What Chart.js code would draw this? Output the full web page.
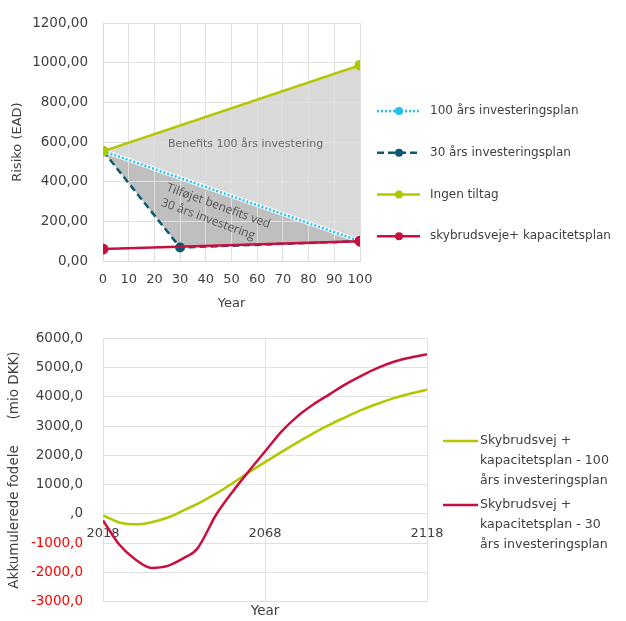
<!DOCTYPE html>
<html>
<head>
<meta charset="utf-8">
<script src="https://cdn.jsdelivr.net/npm/chart.js@4.4.0/dist/chart.umd.min.js"></script>
<style>
  html, body { margin: 0; padding: 0; background: #fff; overflow: hidden; }
  canvas { position: absolute; left: 0; }
  #riskChart { top: 0; }
  #benefitChart { top: 310px; }
</style>
</head>
<body>
<canvas id="riskChart" width="626" height="312"></canvas>
<canvas id="benefitChart" width="626" height="320"></canvas>
<script>
// top chart: risk per plan
const riskYears = [0, 100];
const plan30Years = [0, 30, 100];
const plan100 = [555, 100];
const plan30 = [555, 68, 100];
const ingenTiltag = [553, 988];
const skybrudsveje = [60, 100];

// bottom chart: accumulated benefits (mio DKK)
const benefitYears = [2018, 2023, 2028, 2033, 2038, 2043, 2047, 2053, 2058, 2063, 2068, 2073, 2078, 2083, 2088, 2092, 2098, 2103, 2108, 2113, 2118];
const benefit100 = [-50, -290, -355, -280, -120, 130, 335, 700, 1050, 1420, 1770, 2110, 2440, 2760, 3050, 3260, 3560, 3770, 3960, 4110, 4240];
const benefit30 = [-220, -1040, -1550, -1840, -1770, -1500, -1200, -10, 760, 1460, 2130, 2800, 3330, 3740, 4090, 4370, 4730, 4990, 5200, 5340, 5450];
const benefitTickYears = [2018, 2068, 2118];
const benefitLegend = [
  ['Skybrudsvej +', 'kapacitetsplan - 100', 'års investeringsplan'],
  ['Skybrudsvej +', 'kapacitetsplan - 30', 'års investeringsplan']
];

const GREEN = '#b1c800';
const RED = '#c8103f';
const TEAL = '#0c5a72';
const CYAN = '#22c0f0';
const TEXT = '#404040';
const GRID = '#e0e0e0';
const FONT = '"DejaVu Sans"';

function toPoints(xs, ys) {
  return xs.map((x, i) => ({ x: x, y: ys[i] }));
}

// legend drawn to the right of the plot, one row per labelled dataset
const riskLegend = {
  id: 'riskLegend',
  afterDraw(chart) {
    const ctx = chart.ctx;
    const x0 = chart.chartArea.right + 17;
    let y = chart.chartArea.top + 88;
    ctx.save();
    chart.data.datasets.forEach((ds) => {
      if (!ds.label) return;
      ctx.strokeStyle = ds.borderColor;
      ctx.lineWidth = ds.borderWidth;
      ctx.setLineDash(ds.borderDash || []);
      ctx.beginPath();
      ctx.moveTo(x0, y);
      ctx.lineTo(x0 + 43, y);
      ctx.stroke();
      ctx.setLineDash([]);
      ctx.fillStyle = ds.borderColor;
      ctx.beginPath();
      ctx.arc(x0 + 22, y, 4, 0, Math.PI * 2);
      ctx.fill();
      ctx.fillStyle = TEXT;
      ctx.font = '12px ' + FONT;
      ctx.textBaseline = 'middle';
      ctx.fillText(ds.label, x0 + 53, y);
      y += 41.7;
    });
    ctx.restore();
  }
};

const riskNotes = {
  id: 'riskNotes',
  afterDatasetsDraw(chart) {
    const { ctx, scales: { x, y } } = chart;
    ctx.save();
    ctx.fillStyle = '#6a6a6a';
    ctx.font = '11px ' + FONT;
    ctx.textAlign = 'center';
    ctx.textBaseline = 'middle';
    ctx.fillText('Benefits 100 års investering', x.getPixelForValue(55.5), y.getPixelForValue(588));
    ctx.fillStyle = '#555555';
    ctx.translate(x.getPixelForValue(25.7), y.getPixelForValue(400));
    ctx.rotate(20 * Math.PI / 180);
    ctx.font = '12px "Open Sans"';
    ctx.textAlign = 'left';
    ctx.textBaseline = 'top';
    ctx.fillText('Tilføjet benefits ved', 0, 0);
    ctx.fillText('30 års investering', 0, 16);
    ctx.restore();
  }
};

new Chart(document.getElementById('riskChart'), {
  type: 'line',
  data: {
    datasets: [
      {
        // white edge under the dotted line
        label: '',
        data: toPoints(riskYears, plan100),
        borderColor: '#ffffff', borderWidth: 4,
        pointRadius: 0, fill: false,
        order: 6
      },
      {
        label: '100 års investeringsplan',
        data: toPoints(riskYears, plan100),
        borderColor: CYAN, borderWidth: 2.5, borderDash: [2, 2],
        pointRadius: 4, pointBackgroundColor: CYAN, pointBorderWidth: 0,
        fill: { target: 2 }, backgroundColor: '#bfbfbf',
        order: 5
      },
      {
        label: '30 års investeringsplan',
        data: toPoints(plan30Years, plan30),
        borderColor: TEAL, borderWidth: 2.5, borderDash: [7, 4],
        pointRadius: 5, pointBackgroundColor: TEAL, pointBorderWidth: 0,
        fill: false,
        order: 4
      },
      {
        label: 'Ingen tiltag',
        data: toPoints(riskYears, ingenTiltag),
        borderColor: GREEN, borderWidth: 2.5,
        pointRadius: 5.5, pointBackgroundColor: GREEN, pointBorderWidth: 0,
        fill: { target: 1 }, backgroundColor: '#d9d9d9',
        order: 2
      },
      {
        label: 'skybrudsveje+ kapacitetsplan',
        data: toPoints(riskYears, skybrudsveje),
        borderColor: RED, borderWidth: 2.5,
        pointRadius: 5.5, pointBackgroundColor: RED, pointBorderWidth: 0,
        fill: false,
        order: 3
      }
    ]
  },
  options: {
    responsive: false,
    animation: false,
    layout: { padding: { left: 4, right: 266, top: 15, bottom: 0 } },
    plugins: {
      legend: { display: false },
      tooltip: { enabled: false },
      filler: { drawTime: 'beforeDraw' }
    },
    scales: {
      x: {
        type: 'linear', min: 0, max: 100,
        ticks: { stepSize: 10, autoSkip: false, color: TEXT, font: { family: FONT, size: 13 }, padding: 11, maxRotation: 0 },
        grid: { color: GRID, drawTicks: false },
        border: { color: '#d9d9d9' },
        title: { display: true, text: 'Year', color: TEXT, font: { family: FONT, size: 13 }, padding: { top: 6, bottom: 1 } },
        afterFit(scale) { scale.height = 51; }
      },
      y: {
        min: 0, max: 1200,
        ticks: {
          stepSize: 200, color: TEXT, font: { family: FONT, size: 13.5 }, padding: 15,
          callback: (v) => v.toFixed(2).replace('.', ',')
        },
        grid: { color: GRID, drawTicks: false },
        border: { color: '#d9d9d9' },
        title: { display: true, text: 'Risiko (EAD)', color: TEXT, font: { family: FONT, size: 13 }, padding: { top: 6, bottom: 4 } },
        afterFit(scale) { scale.width = 99; }
      }
    }
  },
  plugins: [riskNotes, riskLegend]
});

const benefitSideLegend = {
  id: 'benefitSideLegend',
  afterDraw(chart) {
    const ctx = chart.ctx;
    const x0 = chart.chartArea.right + 16;
    let y = chart.chartArea.top + 103;
    ctx.save();
    chart.data.datasets.forEach((ds, i) => {
      ctx.strokeStyle = ds.borderColor;
      ctx.lineWidth = ds.borderWidth;
      ctx.beginPath();
      ctx.moveTo(x0, y);
      ctx.lineTo(x0 + 35, y);
      ctx.stroke();
      ctx.fillStyle = TEXT;
      ctx.font = '12.6px ' + FONT;
      ctx.textBaseline = 'middle';
      benefitLegend[i].forEach((line, j) => ctx.fillText(line, x0 + 37, y + j * 19.7));
      y += 64;
    });
    ctx.restore();
  }
};

new Chart(document.getElementById('benefitChart'), {
  type: 'line',
  data: {
    datasets: [
      {
        label: benefitLegend[0].join(' '),
        data: toPoints(benefitYears, benefit100),
        borderColor: GREEN, borderWidth: 2.5, pointRadius: 0,
        cubicInterpolationMode: 'monotone', fill: false,
        order: 2
      },
      {
        label: benefitLegend[1].join(' '),
        data: toPoints(benefitYears, benefit30),
        borderColor: RED, borderWidth: 2.5, pointRadius: 0,
        cubicInterpolationMode: 'monotone', fill: false,
        order: 1
      }
    ]
  },
  options: {
    responsive: false,
    animation: false,
    layout: { padding: { left: 2, right: 199, top: 10, bottom: 0 } },
    plugins: {
      legend: { display: false },
      tooltip: { enabled: false }
    },
    scales: {
      x: {
        type: 'linear', min: 2018, max: 2118,
        position: { y: 0 },
        afterBuildTicks(scale) { scale.ticks = benefitTickYears.map((v) => ({ value: v })); },
        ticks: { color: TEXT, font: { family: FONT, size: 13 }, padding: 12, maxRotation: 0, callback: (v) => String(v) },
        grid: { color: GRID, drawTicks: false },
        border: { display: false }
      },
      x2: {
        type: 'linear', position: 'bottom',
        ticks: { display: false },
        grid: { display: false },
        border: { display: false },
        title: { display: true, text: 'Year', color: TEXT, font: { family: FONT, size: 13.5 }, padding: { top: 2, bottom: 8 } },
        afterFit(scale) { scale.height = 26; }
      },
      y: {
        min: -3000, max: 6000,
        ticks: {
          stepSize: 1000, font: { family: FONT, size: 13.5 }, padding: 20,
          color: (c) => (c.tick && c.tick.value < 0 ? '#ff0000' : TEXT),
          callback: (v) => (v === 0 ? ',0' : v.toFixed(1).replace('.', ','))
        },
        grid: { color: GRID, drawTicks: false },
        border: { color: GRID },
        title: { display: true, text: 'Akkumulerede fodele      (mio DKK)', color: TEXT, font: { family: FONT, size: 13.5 }, padding: { top: 4.4, bottom: 4 } },
        afterFit(scale) { scale.width = 101; }
      }
    }
  },
  plugins: [benefitSideLegend]
});
</script>
</body>
</html>
